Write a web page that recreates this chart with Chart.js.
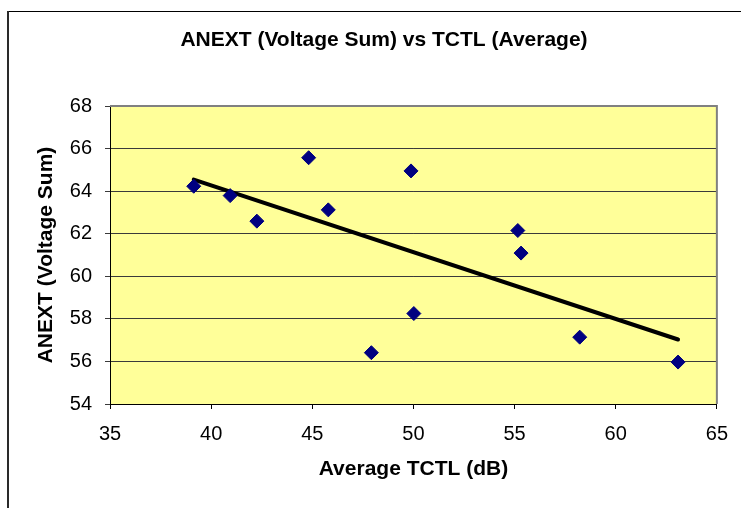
<!DOCTYPE html>
<html>
<head>
<meta charset="utf-8">
<script src="https://cdn.jsdelivr.net/npm/chart.js@4/dist/chart.umd.min.js"></script>
<style>
  html, body { margin: 0; padding: 0; background: #fff; }
  #wrap { position: relative; width: 741px; height: 508px; }
</style>
</head>
<body>
<div id="wrap"><canvas id="chart" width="741" height="508"></canvas></div>
<script>
// values
const tctl  = [39.14, 40.94, 42.26, 44.82, 45.79, 47.92, 49.88, 50.02, 55.16, 55.32, 58.22, 63.08];
const anext = [64.23, 63.79, 62.59, 65.57, 63.12, 56.41, 64.95, 58.25, 62.15, 61.09, 57.14, 55.97];
// linear trendline end points
const trendX = [39.14, 63.08];
const trendY = [64.54, 57.03];

const chartTitle = "ANEXT (Voltage Sum) vs TCTL (Average)";
const xTitle = "Average TCTL (dB)";
const yTitle = "ANEXT (Voltage Sum)";

const FONT = "'Liberation Sans', Arial, Helvetica, sans-serif";

const $ = (id) => document.getElementById(id);

const points = tctl.map((x, i) => ({x, y: anext[i]}));
const trend = trendX.map((x, i) => ({x, y: trendY[i]}));

// frame, yellow plot area, title
const decor = {
  id: "decor",
  beforeDraw(c){
    const {ctx, chartArea: a} = c;
    ctx.save();
    ctx.fillStyle = "#fff";
    ctx.fillRect(0, 0, c.width, c.height);
    // outer chart frame (cropped on right/bottom)
    ctx.fillStyle = "#000";
    ctx.fillRect(7, 11, c.width - 7, 1);
    ctx.fillStyle = "#2a2a2a";
    ctx.fillRect(7, 11, 2, c.height - 11);
    // plot background
    ctx.fillStyle = "#FFFF99";
    ctx.fillRect(a.left, a.top, a.right - a.left, a.bottom - a.top);
    // title
    ctx.fillStyle = "#000";
    ctx.font = "bold 21px " + FONT;
    ctx.textAlign = "center";
    ctx.textBaseline = "middle";
    ctx.fillText(chartTitle, 384, 40);
    ctx.restore();
  },
  beforeDatasetsDraw(c){
    const {ctx, chartArea: a} = c;
    ctx.save();
    // gray plot border on top and right
    ctx.strokeStyle = "#808080";
    ctx.lineWidth = 2;
    ctx.beginPath();
    ctx.moveTo(a.left, a.top);
    ctx.lineTo(a.right, a.top);
    ctx.lineTo(a.right, a.bottom);
    ctx.stroke();
    ctx.restore();
  }
};

new Chart($("chart").getContext("2d"), {
  type: "scatter",
  data: {
    datasets: [
      {
        label: "ANEXT",
        data: points,
        pointStyle: "rectRot",
        pointRadius: 7,
        pointBackgroundColor: "#000080",
        pointBorderColor: "#000080",
        pointBorderWidth: 1,
        showLine: false,
        order: 1
      },
      {
        label: "Linear",
        type: "line",
        data: trend,
        borderColor: "#000",
        borderWidth: 4,
        borderCapStyle: "round",
        pointRadius: 0,
        fill: false,
        tension: 0,
        order: 2
      }
    ]
  },
  options: {
    responsive: false,
    animation: false,
    events: [],
    layout: { padding: { top: 106, right: 20, bottom: 0, left: 0 } },
    plugins: {
      legend: { display: false },
      tooltip: { enabled: false },
      title: { display: false }
    },
    scales: {
      x: {
        type: "linear",
        min: 35, max: 65,
        afterFit(s){ s.height = 104; },
        ticks: { stepSize: 5, color: "#000", padding: 13, font: { family: FONT, size: 20 } },
        grid: { drawOnChartArea: false, drawTicks: true, tickLength: 5, color: "#000" },
        border: { color: "#000", width: 1 },
        title: { display: true, text: xTitle, color: "#000", padding: { top: 0, bottom: 26 }, font: { family: FONT, size: 21, weight: "bold" } }
      },
      y: {
        min: 54, max: 68,
        afterFit(s){ s.width = 110; },
        ticks: { stepSize: 2, color: "#000", padding: 13, font: { family: FONT, size: 20 } },
        grid: { color: "#3a3a3a", lineWidth: 1, drawTicks: true, tickLength: 5 },
        border: { color: "#000", width: 1 },
        title: { display: true, text: yTitle, color: "#000", padding: { top: 34, bottom: 0 }, font: { family: FONT, size: 21, weight: "bold" } }
      }
    }
  },
  plugins: [decor]
});
</script>
</body>
</html>
